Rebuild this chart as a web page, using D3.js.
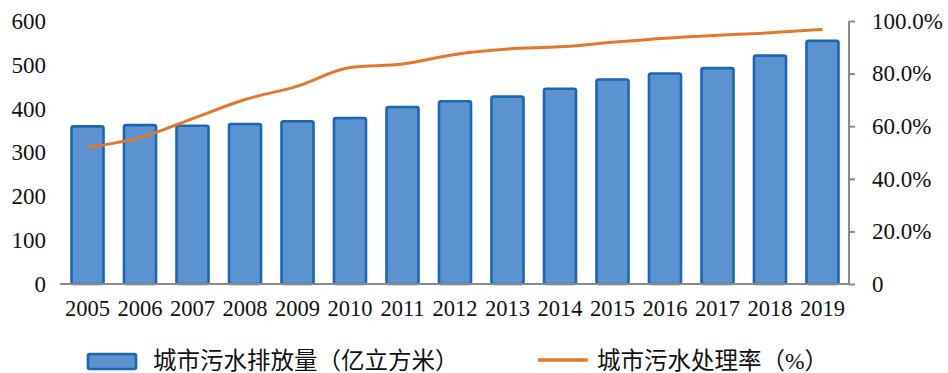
<!DOCTYPE html>
<html>
<head>
<meta charset="utf-8">
<script src="https://cdn.jsdelivr.net/npm/d3@7"></script>
<style>
  html, body { margin: 0; padding: 0; background: #fff; }
  svg { display: block; }
</style>
</head>
<body>
<svg id="chart" width="948" height="373"></svg>
<script>
// Years on the category axis
const years = ["2005","2006","2007","2008","2009","2010","2011","2012","2013","2014","2015","2016","2017","2018","2019"];
// Urban sewage discharge, 100 million cubic metres
const discharge = [359.5, 362.5, 361.0, 364.9, 371.2, 378.7, 403.7, 416.8, 427.5, 445.3, 466.6, 480.3, 492.4, 521.1, 554.6];
// Urban sewage treatment rate, %
const treatRate = [51.95, 55.67, 62.87, 70.16, 75.25, 82.31, 83.63, 87.30, 89.34, 90.18, 91.90, 93.44, 94.54, 95.49, 96.81];
// Axis ticks
const leftTicks = [0, 100, 200, 300, 400, 500, 600];
const rightTicks = [0, 20, 40, 60, 80, 100];
// Legend labels
const barLabel = "城市污水排放量（亿立方米）";
const lineLabel = "城市污水处理率（%）";

const numFont = '"Liberation Serif", "Times New Roman", serif';
const cjkFont = '"Liberation Serif", "Noto Sans CJK SC", serif';

const svg = d3.select("#chart");
const m = { left: 61, right: 849, top: 21, bottom: 284 };

const x = d3.scaleBand().domain(years).range([m.left, m.right]).paddingInner(0.39).paddingOuter(0.2);
const yL = d3.scaleLinear().domain([0, 600]).range([m.bottom, m.top]);
const yR = d3.scaleLinear().domain([0, 100]).range([m.bottom, m.top]);

// Bars
svg.append("g").selectAll("rect")
  .data(years)
  .join("rect")
  .attr("x", d => x(d))
  .attr("y", (d, i) => yL(discharge[i]))
  .attr("width", x.bandwidth())
  .attr("height", (d, i) => yL(0) - yL(discharge[i]))
  .attr("rx", 2)
  .attr("fill", "#5a93cf")
  .attr("stroke", "#1d66b3")
  .attr("stroke-width", 2.6);

// Category axis baseline and year labels
const gx = svg.append("g").attr("transform", `translate(0,${m.bottom})`)
  .call(d3.axisBottom(x).tickSize(0).tickPadding(16));
gx.select(".domain").attr("stroke", "#8a8a8a").attr("stroke-width", 2)
  .attr("d", `M${m.left - 1},0H${m.right}`);
gx.selectAll("text").style("font-family", numFont).style("font-size", "22.5px").attr("fill", "#111");

// Left value axis (labels only)
const gl = svg.append("g").attr("transform", `translate(${m.left - 15},0)`)
  .call(d3.axisLeft(yL).tickValues(leftTicks).tickSize(0).tickPadding(0).tickFormat(d3.format("d")));
gl.select(".domain").remove();
gl.selectAll("text").style("font-family", numFont).style("font-size", "23px").attr("fill", "#111");

// Right percentage axis
const gr = svg.append("g").attr("transform", `translate(${m.right},0)`)
  .call(d3.axisRight(yR).tickValues(rightTicks).tickSize(6).tickPadding(17)
    .tickFormat(d => d === 0 ? "0" : d3.format(".1f")(d) + "%"));
gr.select(".domain").attr("stroke", "#8a8a8a").attr("stroke-width", 2)
  .attr("d", `M0,${m.top}V${m.bottom}`);
gr.selectAll(".tick line").attr("stroke", "#8a8a8a").attr("stroke-width", 2);
gr.selectAll("text").style("font-family", numFont).style("font-size", "23px").attr("fill", "#111");

// Treatment rate line
const line = d3.line()
  .x((d, i) => x(years[i]) + x.bandwidth() / 2)
  .y(d => yR(d))
  .curve(d3.curveMonotoneX);
svg.append("path")
  .datum(treatRate)
  .attr("d", line)
  .attr("fill", "none")
  .attr("stroke", "#e5772a")
  .attr("stroke-width", 3);

// Legend
const lg = svg.append("g");
lg.append("rect").attr("x", 88).attr("y", 354).attr("width", 48).attr("height", 15).attr("rx", 1.5)
  .attr("fill", "#5a93cf").attr("stroke", "#1d66b3").attr("stroke-width", 2.6);
lg.append("text").attr("x", 153).attr("y", 361).attr("dy", "0.36em")
  .style("font-family", cjkFont).style("font-size", "23.5px").attr("fill", "#111").text(barLabel);
lg.append("line").attr("x1", 538).attr("x2", 588).attr("y1", 360).attr("y2", 360)
  .attr("stroke", "#e5772a").attr("stroke-width", 3.5);
lg.append("text").attr("x", 597).attr("y", 361).attr("dy", "0.36em")
  .style("font-family", cjkFont).style("font-size", "23.5px").attr("fill", "#111").text(lineLabel);
</script>
</body>
</html>
